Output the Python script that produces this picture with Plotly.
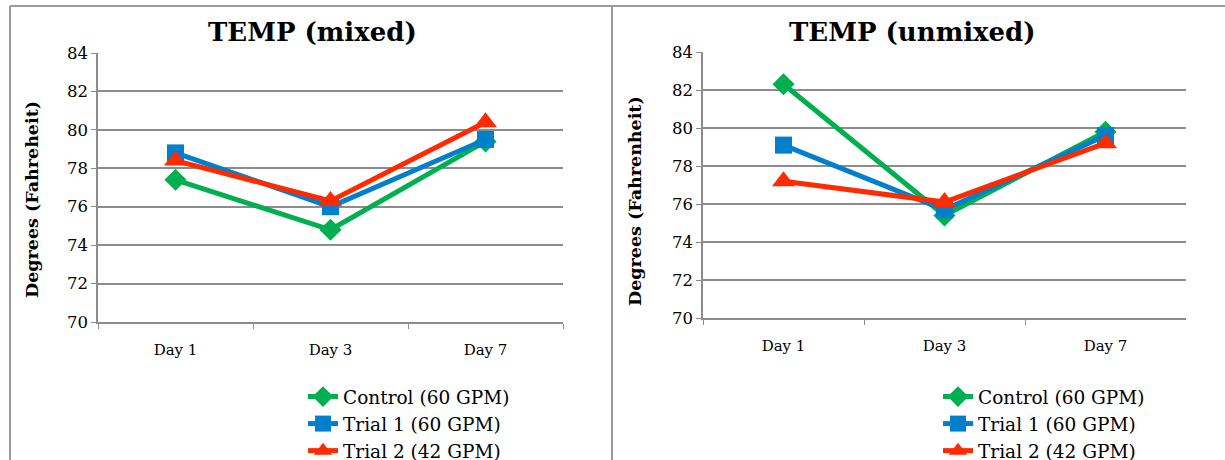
import plotly.graph_objects as go

days = ["Day 1", "Day 3", "Day 7"]
series_names = ["Control (60 GPM)", "Trial 1 (60 GPM)", "Trial 2 (42 GPM)"]
mixed_control = [77.4, 74.8, 79.4]
mixed_trial1 = [78.8, 76.0, 79.5]
mixed_trial2 = [78.4, 76.3, 80.4]
unmixed_control = [82.3, 75.4, 79.8]
unmixed_trial1 = [79.1, 75.7, 79.6]
unmixed_trial2 = [77.2, 76.1, 79.2]
y_ticks = [70, 72, 74, 76, 78, 80, 82, 84]

colors = ["#00B050", "#0080CC", "#FF2A00"]
symbols = ["diamond", "square", "triangle-up"]
msizes = [17, 17, 20]
FONT = "DejaVu Serif"
W, H = 1225, 460

fig = go.Figure()
for panel, (vals, xa, ya, lg) in enumerate([
        ([mixed_control, mixed_trial1, mixed_trial2], "x", "y", "legend"),
        ([unmixed_control, unmixed_trial1, unmixed_trial2], "x2", "y2", "legend2")]):
    for i in range(3):
        fig.add_trace(go.Scatter(
            x=days, y=vals[i], name=series_names[i], mode="lines+markers",
            line=dict(color=colors[i], width=5),
            marker=dict(symbol=symbols[i], size=msizes[i], color=colors[i]),
            xaxis=xa, yaxis=ya, legend=lg, cliponaxis=False))

def px_x(v):
    return v / W

def px_y(v):
    return 1 - v / H

axcommon = dict(showline=True, linecolor="#8c8c8c", linewidth=1.5, ticks="outside",
                tickcolor="#8c8c8c", ticklen=5)
xcommon = dict(axcommon, type="category", range=[-0.5, 2.5], tickson="boundaries",
               showgrid=False, zeroline=False, ticklabelstandoff=13,
               tickfont=dict(family=FONT, size=15, color="#000"))
ycommon = dict(axcommon, range=[70, 84], tickvals=y_ticks, showgrid=True,
               gridcolor="#8c8c8c", gridwidth=1.5, zeroline=False,
               tickfont=dict(family=FONT, size=16.5, color="#000"))

legfont = dict(family=FONT, size=18.5, color="#000")
fig.update_layout(
    width=W, height=H, margin=dict(l=0, r=0, t=0, b=0, autoexpand=False),
    font=dict(family=FONT, color="#000"),
    paper_bgcolor="white", plot_bgcolor="white",
    xaxis=dict(xcommon, domain=[px_x(98), px_x(563)], anchor="y"),
    yaxis=dict(ycommon, domain=[px_y(322), px_y(53)], anchor="x"),
    xaxis2=dict(xcommon, domain=[px_x(703), px_x(1186)], anchor="y2"),
    yaxis2=dict(ycommon, domain=[px_y(318), px_y(52)], anchor="x2"),
    legend=dict(x=px_x(303), y=px_y(378), xref="container", yref="container",
                xanchor="left", yanchor="top",
                font=legfont, tracegroupgap=0, bgcolor="rgba(0,0,0,0)"),
    legend2=dict(x=px_x(938), y=px_y(378), xref="container", yref="container",
                 xanchor="left", yanchor="top",
                 font=legfont, tracegroupgap=0, bgcolor="rgba(0,0,0,0)"),
    showlegend=True,
)

for txt, x in [("<b>TEMP (mixed)</b>", 312), ("<b>TEMP (unmixed)</b>", 912)]:
    fig.add_annotation(text=txt, x=px_x(x), y=px_y(32), xref="paper", yref="paper",
                       xanchor="center", yanchor="middle",
                       showarrow=False, font=dict(family=FONT, size=26, color="#000"))
for txt, x, y in [("<b>Degrees (Fahreheit)</b>", 32, 200), ("<b>Degrees (Fahrenheit)</b>", 635, 201)]:
    fig.add_annotation(text=txt, x=px_x(x), y=px_y(y), xref="paper", yref="paper",
                       xanchor="center", yanchor="middle", textangle=-90,
                       showarrow=False, font=dict(family=FONT, size=17.5, color="#000"))

border = dict(color="#9a9a9a", width=2)
fig.add_shape(type="line", xref="paper", yref="paper", x0=px_x(10), x1=px_x(10), y0=0, y1=px_y(6), line=border)
fig.add_shape(type="line", xref="paper", yref="paper", x0=px_x(10), x1=1, y0=px_y(6), y1=px_y(6), line=border)
fig.add_shape(type="line", xref="paper", yref="paper", x0=px_x(612), x1=px_x(612), y0=0, y1=px_y(6), line=border)

fig.write_html("out.html")
